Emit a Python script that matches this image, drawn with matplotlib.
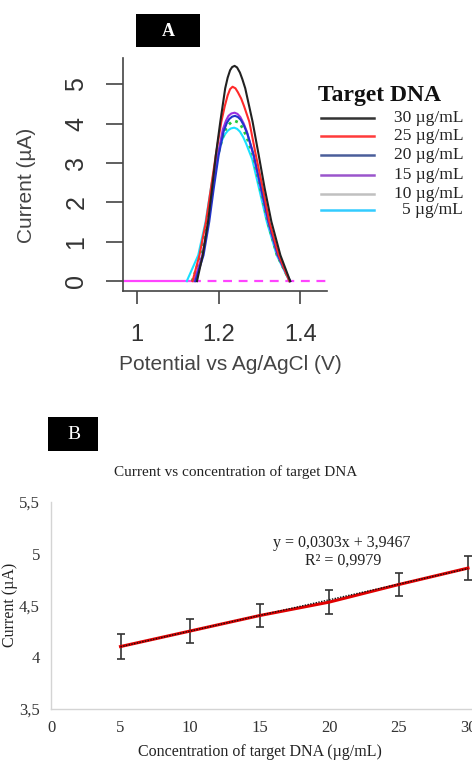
import numpy as np
import matplotlib
matplotlib.use("Agg")
import matplotlib.pyplot as plt
from matplotlib.lines import Line2D
from matplotlib.patches import Rectangle

# ---- dados painel A (voltametria) ----
legenda_titulo = "Target DNA"
legenda_labels = ["30 µg/mL", "25 µg/mL", "20 µg/mL", "15 µg/mL", "10 µg/mL", "5 µg/mL"]

pot_30 = [1.147, 1.161, 1.174, 1.184, 1.193, 1.204, 1.216, 1.222, 1.228, 1.233, 1.239, 1.245, 1.252, 1.258, 1.265, 1.283, 1.298, 1.3125, 1.329, 1.351, 1.375]
cor_30 = [0, 0.66, 1.51, 2.36, 3.2, 4.05, 4.9, 5.17, 5.36, 5.44, 5.47, 5.43, 5.3, 5.13, 4.9, 4.05, 3.2, 2.36, 1.51, 0.66, 0]

pot_25 = [1.136, 1.153, 1.169, 1.181, 1.193, 1.2065, 1.215, 1.222, 1.228, 1.234, 1.241, 1.247, 1.255, 1.262, 1.275, 1.291, 1.308, 1.324, 1.347, 1.373]
cor_25 = [0, 0.66, 1.51, 2.36, 3.2, 4.05, 4.45, 4.72, 4.88, 4.94, 4.9, 4.8, 4.64, 4.45, 4.05, 3.2, 2.36, 1.51, 0.66, 0]

pot_20 = [1.143, 1.163, 1.177, 1.188, 1.2, 1.212, 1.22, 1.226, 1.233, 1.24, 1.247, 1.254, 1.262, 1.27, 1.286, 1.304, 1.322, 1.345, 1.375]
cor_20 = [0, 0.66, 1.51, 2.36, 3.2, 3.8, 4.02, 4.12, 4.18, 4.2, 4.17, 4.1, 3.95, 3.75, 3.2, 2.36, 1.51, 0.66, 0]

pot_15 = [1.14, 1.16, 1.175, 1.186, 1.198, 1.21, 1.218, 1.224, 1.231, 1.239, 1.246, 1.253, 1.261, 1.269, 1.285, 1.303, 1.321, 1.344, 1.374]
cor_15 = [0, 0.66, 1.51, 2.36, 3.2, 3.85, 4.08, 4.2, 4.26, 4.28, 4.25, 4.17, 4.01, 3.8, 3.2, 2.36, 1.51, 0.66, 0]

pot_10 = [1.135, 1.157, 1.173, 1.185, 1.198, 1.211, 1.218, 1.225, 1.232, 1.24, 1.247, 1.254, 1.262, 1.269, 1.284, 1.302, 1.32, 1.343, 1.374]
cor_10 = [0, 0.66, 1.51, 2.36, 3.2, 3.7, 3.88, 3.98, 4.05, 4.07, 4.04, 3.97, 3.82, 3.65, 3.2, 2.36, 1.51, 0.66, 0]

pot_5 = [1.122, 1.15, 1.168, 1.181, 1.195, 1.209, 1.216, 1.223, 1.23, 1.238, 1.245, 1.252, 1.26, 1.267, 1.282, 1.3, 1.318, 1.342, 1.373]
cor_5 = [0, 0.66, 1.51, 2.36, 3.2, 3.6, 3.74, 3.83, 3.88, 3.9, 3.87, 3.8, 3.66, 3.5, 3.1, 2.3, 1.5, 0.66, 0]

# linha de base (branco)
base_solida_x = [0.966, 1.135]
base_tracejada_x = [1.135, 1.465]
base_y = [0, 0]

xticks_a = [1.0, 1.2, 1.4]
xticklabels_a = ["1", "1.2", "1.4"]
yticks_a = [0, 1, 2, 3, 4, 5]

# ---- dados painel B (curva de calibraçao) ----
conc = [5, 10, 15, 20, 25, 30]
corrente = [4.10, 4.25, 4.40, 4.53, 4.70, 4.86]
erro = [0.12, 0.115, 0.11, 0.115, 0.115, 0.115]
slope, intercept = 0.0303, 3.9467
xticks_b = [0, 5, 10, 15, 20, 25, 30]
yticks_b = [3.5, 4, 4.5, 5, 5.5]
yticklabels_b = ["3,5", "4", "4,5", "5", "5,5"]

W, H = 472, 760
fig = plt.figure(figsize=(W / 100, H / 100), dpi=100)
fig.patch.set_facecolor("white")

def fx(px):
    return px / W

def fy(py):
    return 1 - py / H

sans = "Liberation Sans"
serif = "Liberation Serif"

# =================== painel A ===================
axA = fig.add_axes([fx(123), fy(291), (327 - 123) / W, (291 - 58) / H])
axA.set_xlim(0.966, 1.465)
axA.set_ylim(-0.25, 5.67)

curvas = [
    (pot_5, cor_5, "#19e0ff", "-"),
    (pot_10, cor_10, "#22c93a", ":"),
    (pot_15, cor_15, "#9b30e0", "-"),
    (pot_20, cor_20, "#2233cc", "-"),
    (pot_25, cor_25, "#ff2a2a", "-"),
    (pot_30, cor_30, "#222222", "-"),
]
axA.plot(base_solida_x, base_y, color="#ff44ff", lw=1.6, solid_capstyle="butt")
axA.plot(base_tracejada_x, base_y, color="#ff44ff", lw=1.6, ls=(0, (4, 3)))
for xs, ys, c, ls in curvas:
    axA.plot(xs, ys, color=c, lw=1.5 if ls == "-" else 2.0, ls=ls)

for s in ["top", "right"]:
    axA.spines[s].set_visible(False)
for s in ["left", "bottom"]:
    axA.spines[s].set_color("#444444")
    axA.spines[s].set_linewidth(1.2)

axA.set_xticks(xticks_a)
axA.set_xticklabels(xticklabels_a, fontfamily=sans, fontsize=17, color="#333333")
axA.set_yticks(yticks_a)
axA.set_yticklabels([str(v) for v in yticks_a], fontfamily=sans, fontsize=18,
                    color="#333333", rotation=90, va="center")
axA.tick_params(axis="x", length=9.5, width=1.2, color="#444444", pad=14)
axA.tick_params(axis="y", length=12, width=1.2, color="#444444", pad=13)

axA.set_xlabel("Potential vs Ag/AgCl (V)", fontfamily=sans, fontsize=15,
               color="#444444", va="center")
axA.xaxis.set_label_coords((230 - 123) / 204, (291 - 364) / 233)
axA.set_ylabel("Current (µA)", fontfamily=sans, fontsize=15,
               color="#444444", va="center")
axA.yaxis.set_label_coords((26 - 123) / 204, (291 - 185) / 233)

# caixa "A"
fig.add_artist(Rectangle((fx(136), fy(47)), (200 - 136) / W, (47 - 14) / H,
                         transform=fig.transFigure, facecolor="black", edgecolor="none"))
fig.text(fx(168), fy(31), "A", fontfamily=serif, fontweight="bold", fontsize=13,
         color="white", ha="center", va="center")

# legenda manual
fig.text(fx(380), fy(96), legenda_titulo, fontfamily=serif, fontweight="bold",
         fontsize=17, color="#111111", ha="center", va="center")
cores_leg = ["#333333", "#ff3b3b", "#4a5e9a", "#9a55cc", "#c0c0c0", "#33ccff"]
linhas_y = [118, 136, 155, 175, 194, 210]
for lab, c, yy in zip(legenda_labels, cores_leg, linhas_y):
    fig.add_artist(Line2D([fx(321), fx(374)], [fy(yy), fy(yy)],
                          transform=fig.transFigure, color=c, lw=1.8))
    fig.text(fx(463), fy(yy), lab, fontfamily=serif, fontsize=12.5,
             color="#222222", ha="right", va="center")

# =================== painel B ===================
axB = fig.add_axes([fx(51), fy(708.5), (472 - 51) / W, (708.5 - 502) / H])
axB.set_xlim(0, 421 / 13.9)
axB.set_ylim(3.5, 5.5)

axB.errorbar(conc, corrente, yerr=erro, fmt="none", ecolor="#333333",
             elinewidth=1.2, capsize=3, capthick=1.2, zorder=2)
axB.plot(conc, corrente, color="#e00000", lw=2.2, zorder=3)
tx = np.array([conc[0], conc[-1]])
axB.plot(tx, slope * tx + intercept, color="#111111", lw=1.0, ls=(0, (1, 1)), zorder=4)

for s in ["top", "right"]:
    axB.spines[s].set_visible(False)
for s in ["left", "bottom"]:
    axB.spines[s].set_color("#d4d4d4")
    axB.spines[s].set_linewidth(1.0)

axB.set_xticks(xticks_b)
axB.set_xticklabels([str(v) for v in xticks_b], fontfamily=serif, fontsize=12, color="#333333")
axB.set_yticks(yticks_b)
axB.set_yticklabels(yticklabels_b, fontfamily=serif, fontsize=12, color="#333333")
axB.tick_params(axis="both", length=0)
axB.tick_params(axis="x", pad=8)
axB.tick_params(axis="y", pad=8)

axB.set_xlabel("Concentration of target DNA (µg/mL)", fontfamily=serif, fontsize=11.5,
               color="#222222", va="center")
axB.xaxis.set_label_coords((260 - 51) / 421, (708.5 - 752) / 206.5)
axB.set_ylabel("Current (µA)", fontfamily=serif, fontsize=11.5, color="#222222", va="center")
axB.yaxis.set_label_coords((10 - 51) / 421, (708.5 - 605) / 206.5)

fig.text(fx(236), fy(472), "Current vs concentration of target DNA", fontfamily=serif,
         fontsize=11, color="#222222", ha="center", va="center")
fig.text(fx(342), fy(543), "y = 0,0303x + 3,9467", fontfamily=serif, fontsize=11.5,
         color="#222222", ha="center", va="center")
fig.text(fx(343), fy(561), "R² = 0,9979", fontfamily=serif, fontsize=11.5,
         color="#222222", ha="center", va="center")

# caixa "B"
fig.add_artist(Rectangle((fx(48), fy(451)), (98 - 48) / W, (451 - 417) / H,
                         transform=fig.transFigure, facecolor="black", edgecolor="none"))
fig.text(fx(74), fy(435), "B", fontfamily=serif, fontsize=14, color="white",
         ha="center", va="center")

fig.savefig("out.png", dpi=100)
